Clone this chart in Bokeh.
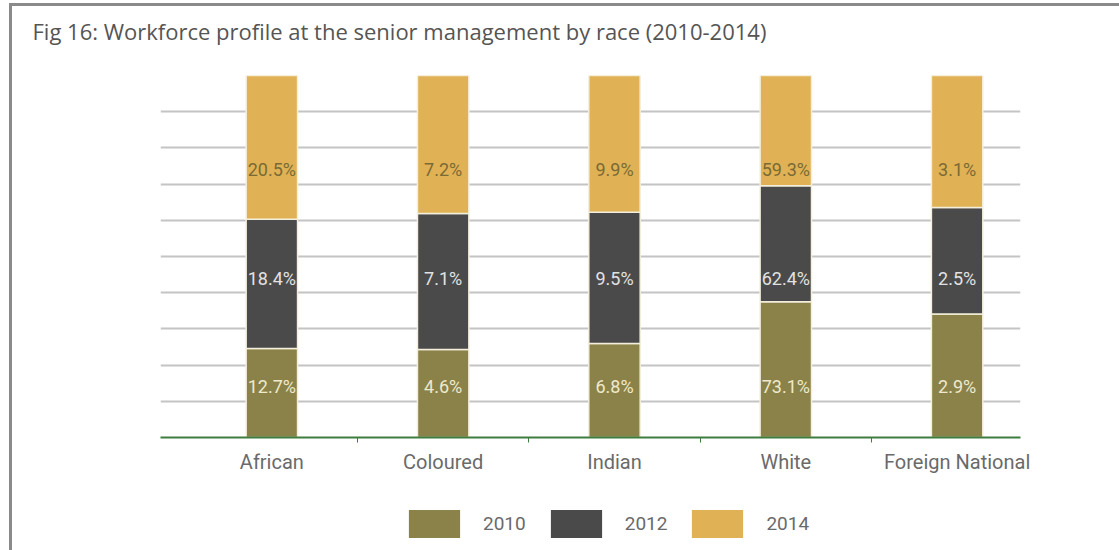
from bokeh.plotting import figure
from bokeh.models import Range1d, FixedTicker, Legend, LegendItem, ColumnDataSource
from bokeh.layouts import column
from bokeh.core.properties import value
from bokeh.embed import file_html
from bokeh.resources import INLINE

# ---- data ----
categories = ["African", "Coloured", "Indian", "White", "Foreign National"]
years = ["2010", "2012", "2014"]
v2010 = [12.7, 4.6, 6.8, 73.1, 2.9]
v2012 = [18.4, 7.1, 9.5, 62.4, 2.5]
v2014 = [20.5, 7.2, 9.9, 59.3, 3.1]
title_text = "Fig 16: Workforce profile at the senior management by race (2010-2014)"

# ---- style ----
colors = ["#8b8249", "#4a4a4a", "#e0b255"]
label_colors = ["#efe9cc", "#e2e2e2", "#7a6a34"]
label_levels = [14, 44, 74]   # label rows (percent of bar height)
font = "Roboto"

x = list(range(len(categories)))
series = [v2010, v2012, v2014]
totals = [a + b + c for a, b, c in zip(v2010, v2012, v2014)]
shares = [[v / t * 100 for v, t in zip(s, totals)] for s in series]

W = 1107
H0 = 50
H1 = 425
H2 = 69
LB, RB = 148, 99   # shared left/right borders (column aligns them)

# title strip
p0 = figure(width=W, height=H0, x_range=Range1d(0, 1), y_range=Range1d(0, 1),
            output_backend="svg", toolbar_location=None,
            min_border_left=LB, min_border_right=RB, min_border_top=39, min_border_bottom=0)
p0.axis.visible = False
p0.grid.visible = False
p0.outline_line_color = None
p0.border_fill_color = "white"
p0.title.text = title_text
p0.title.text_font = "Open Sans"
p0.title.text_font_size = "22px"
p0.title.text_font_style = "normal"
p0.title.text_color = "#555555"
p0.title.offset = -128
p0.title.standoff = 0

# main chart
p = figure(width=W, height=H1, x_range=Range1d(-0.65, 4.37), y_range=Range1d(0, 100),
           output_backend="svg", toolbar_location=None,
           min_border_left=LB, min_border_right=RB, min_border_top=69 - H0,
           min_border_bottom=H0 + H1 - 431)
p.outline_line_color = None
p.background_fill_color = "white"
p.border_fill_color = "white"

p.yaxis.visible = False
p.xgrid.visible = False
p.ygrid.ticker = FixedTicker(ticks=list(range(0, 101, 10)))
p.ygrid.grid_line_color = "#c4c4c4"
p.ygrid.grid_line_width = 2

xa = p.xaxis[0]
xa.ticker = FixedTicker(ticks=x, minor_ticks=[i + 0.5 for i in x[:-1]])
xa.major_label_overrides = {i: c for i, c in enumerate(categories)}
xa.axis_line_color = "#3f7d3f"
xa.axis_line_width = 2
xa.major_tick_line_color = None
xa.major_tick_out = 0
xa.major_tick_in = 0
xa.minor_tick_line_color = "#3f7d3f"
xa.minor_tick_out = 5
xa.minor_tick_in = 0
xa.major_label_standoff = 7
xa.major_label_text_font = font
xa.major_label_text_font_size = "20px"
xa.major_label_text_color = "#6a6a6a"

bottom = [0.0] * len(x)
for i, yr in enumerate(years):
    top = [b + s for b, s in zip(bottom, shares[i])]
    src = ColumnDataSource(dict(x=x, bottom=bottom, top=top))
    p.vbar(x="x", bottom="bottom", top="top", width=0.3, source=src,
           fill_color=colors[i], line_color="#f4efdc", line_width=1.5)
    lab = ColumnDataSource(dict(x=x, y=[label_levels[i]] * len(x),
                                t=[f"{v}%" for v in series[i]]))
    p.text(x="x", y="y", text="t", source=lab, text_align="center", text_baseline="middle",
           text_font=value(font), text_font_size="18px", text_color=label_colors[i])
    bottom = top

# legend strip (swatch renderers sit outside the visible range; only their legend glyphs show)
p2 = figure(width=W, height=H2, x_range=Range1d(0, 1), y_range=Range1d(0, 1),
            output_backend="svg", toolbar_location=None,
            min_border_left=LB, min_border_right=RB, min_border_top=17, min_border_bottom=0)
p2.axis.visible = False
p2.grid.visible = False
p2.outline_line_color = None
p2.border_fill_color = "white"
swatches = [p2.vbar(x=[-5], top=[-5], bottom=[-6], width=0.1, fill_color=colors[i], line_color=None)
            for i in range(len(years))]
legend = Legend(items=[LegendItem(label=yr, renderers=[swatches[i]]) for i, yr in enumerate(years)],
                orientation="horizontal", location=(242, 9),
                glyph_width=64, glyph_height=35, label_standoff=17, spacing=18,
                label_text_font=font, label_text_font_size="19px", label_text_color="#6a6a6a",
                border_line_color=None, background_fill_alpha=0, margin=0, padding=4)
p2.add_layout(legend)

layout = column(p0, p, p2, spacing=0,
                styles={"margin-left": "9px", "margin-top": "3px",
                        "border-left": "3px solid #8a8a8a", "border-top": "3px solid #8a8a8a"})

open("out.html", "w").write(file_html(layout, INLINE))
